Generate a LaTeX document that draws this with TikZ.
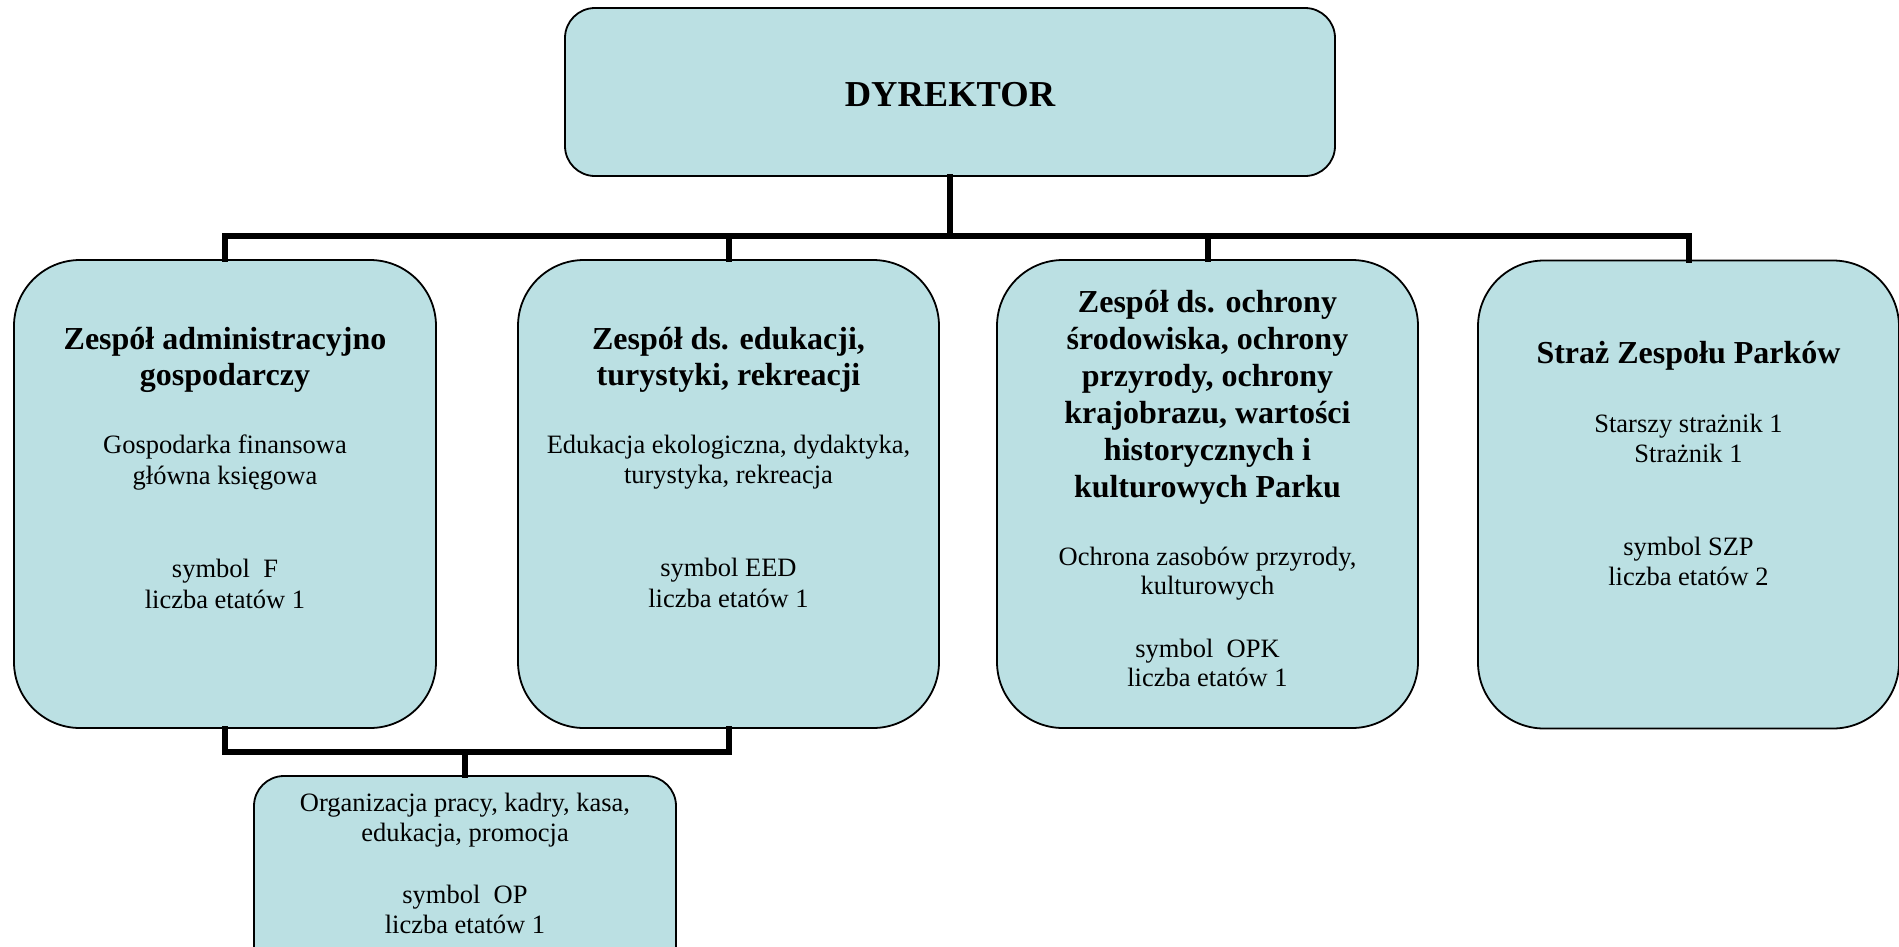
\documentclass[tikz,border=0pt]{standalone}
\usepackage{fontspec}
\setmainfont{Liberation Serif}
\definecolor{boxfill}{RGB}{187,224,227}
\begin{document}
\begin{tikzpicture}[x=1pt,y=-1pt,
  box/.style={draw=black, line width=1.8pt, fill=boxfill, rectangle, inner sep=0pt},
  conn/.style={draw=black, line width=6pt, line join=miter, line cap=rect},
  hd/.style={font=\fontsize{32}{36}\selectfont\bfseries, anchor=base, inner sep=0pt},
  bd/.style={font=\fontsize{26.5}{31}\selectfont, anchor=base, inner sep=0pt}]
\useasboundingbox (0,0) rectangle (1899,946);
% boxes
\node[box, rounded corners=30pt, minimum width=770pt, minimum height=168pt] (top) at (950,92) {};
\node[box, rounded corners=66pt, minimum width=422pt, minimum height=468pt] (b1) at (225,494) {};
\node[box, rounded corners=66pt, minimum width=421pt, minimum height=468pt] (b2) at (728.5,494) {};
\node[box, rounded corners=66pt, minimum width=421pt, minimum height=468pt] (b3) at (1207.5,494) {};
\node[box, rounded corners=66pt, minimum width=421pt, minimum height=468pt] (b4) at (1688.5,494.5) {};
\node[box, rounded corners=30pt, minimum width=422pt, minimum height=220pt] (b5) at (465,886) {};
% connectors
\coordinate (bus) at (950,236);
\coordinate (bus2) at (465,752);
\draw[conn] (top.south) -- (bus);
\draw[conn] (b1.north) |- (bus) -| (b4.north);
\draw[conn] (b2.north) -- (b2.north |- bus);
\draw[conn] (b3.north) -- (b3.north |- bus);
\draw[conn] (b1.south) |- (bus2) -| (b2.south);
\draw[conn] (bus2) -- (b5.north);
% top text
\node[hd, font=\fontsize{36.5}{40}\selectfont\bfseries] (t0) at (950,106) {DYREKTOR};
% box 1
\node[hd] (t1a) at (225,349) {Zespół administracyjno};
\node[hd] (t1b) at (225,385) {gospodarczy};
\node[bd] (t1c) at (225,453) {Gospodarka finansowa};
\node[bd] (t1d) at (225,484) {główna księgowa};
\node[bd] (t1e) at (225,577) {symbol\ \ F};
\node[bd] (t1f) at (225,608) {liczba etatów 1};
% box 2
\node[hd] (t2a) at (728.5,349) {Zespół ds. edukacji,};
\node[hd] (t2b) at (728.5,385) {turystyki, rekreacji};
\node[bd] (t2c) at (728.5,453) {Edukacja ekologiczna, dydaktyka,};
\node[bd] (t2d) at (728.5,483) {turystyka, rekreacja};
\node[bd] (t2e) at (728.5,576) {symbol EED};
\node[bd] (t2f) at (728.5,607) {liczba etatów 1};
% box 3
\node[hd] (t3a) at (1207.5,312) {Zespół ds. ochrony};
\node[hd] (t3b) at (1207.5,349) {środowiska, ochrony};
\node[hd] (t3c) at (1207.5,386) {przyrody, ochrony};
\node[hd] (t3d) at (1207.5,423) {krajobrazu, wartości};
\node[hd] (t3e) at (1207.5,460) {historycznych i};
\node[hd] (t3f) at (1207.5,497) {kulturowych Parku};
\node[bd] (t3g) at (1207.5,565) {Ochrona zasobów przyrody,};
\node[bd] (t3h) at (1207.5,594) {kulturowych};
\node[bd] (t3i) at (1207.5,657) {symbol\ \ OPK};
\node[bd] (t3j) at (1207.5,686) {liczba etatów 1};
% box 4
\node[hd] (t4a) at (1688.5,363) {Straż Zespołu Parków};
\node[bd] (t4b) at (1688.5,432) {Starszy strażnik 1};
\node[bd] (t4c) at (1688.5,462) {Strażnik 1};
\node[bd] (t4d) at (1688.5,555) {symbol SZP};
\node[bd] (t4e) at (1688.5,585) {liczba etatów 2};
% box 5
\node[bd] (t5a) at (465,811) {Organizacja pracy, kadry, kasa,};
\node[bd] (t5b) at (465,841) {edukacja, promocja};
\node[bd] (t5c) at (465,903) {symbol\ \ OP};
\node[bd] (t5d) at (465,933) {liczba etatów 1};
\end{tikzpicture}
\end{document}
